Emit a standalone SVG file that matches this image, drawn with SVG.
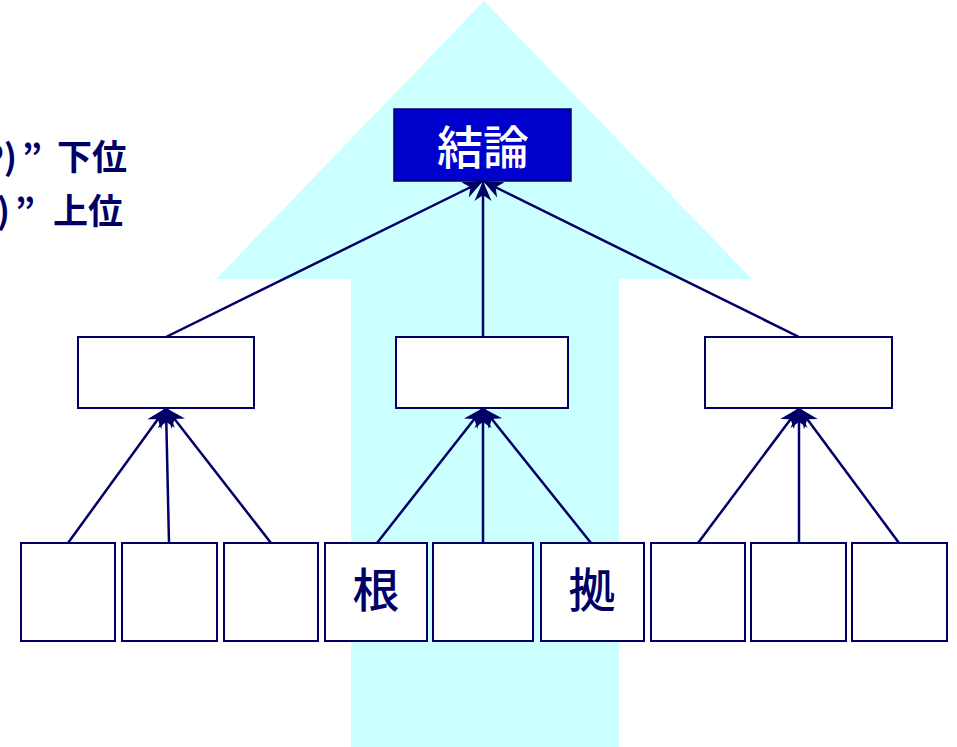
<svg xmlns="http://www.w3.org/2000/svg" width="957" height="747" viewBox="0 0 957 747">
<defs>
<style>
.box{fill:#fff;stroke:#000066;stroke-width:2}
.con{stroke:#000066;stroke-width:2.5;fill:none;marker-end:url(#ah)}
.t{font-family:"Noto Sans CJK JP","Noto Sans",sans-serif;font-weight:500;fill:#000066}
.lbl{font-family:"Noto Sans CJK JP","Noto Sans",sans-serif;font-weight:600;fill:#000066}
</style>
<marker id="ah" markerUnits="userSpaceOnUse" markerWidth="24" markerHeight="20" viewBox="-22 -10 24 20" refX="0" refY="0" orient="auto">
<path d="M0,0 L-20,-8.5 L-14,0 L-20,8.5 z" fill="#000066"/>
</marker>
</defs>
<polygon points="484,1 752,279 619,279 619,747 351,747 351,279 216,279" fill="#CCFFFF"/>
<text class="lbl" font-size="35"><tspan x="17" y="170" text-anchor="end">P)</tspan><tspan x="22" y="170">”</tspan><tspan x="57" y="170">下位</tspan></text>
<text class="lbl" font-size="35"><tspan x="10" y="224" text-anchor="end">)</tspan><tspan x="15" y="224">”</tspan><tspan x="53" y="224">上位</tspan></text>
<g id="conclusion">
<rect x="394" y="109" width="177" height="72" fill="#0000CC" stroke="#000066" stroke-width="1.5"/>
<text class="t" x="483" y="164" font-size="46" text-anchor="middle" style="fill:#fff">結論</text>
</g>
<g id="mid1"><rect class="box" x="78" y="337" width="176" height="71"/></g>
<g id="mid2"><rect class="box" x="396" y="337" width="172" height="71"/></g>
<g id="mid3"><rect class="box" x="705" y="337" width="187" height="71"/></g>
<g id="b1"><rect class="box" x="21" y="543" width="94" height="98"/></g>
<g id="b2"><rect class="box" x="122" y="543" width="95" height="98"/></g>
<g id="b3"><rect class="box" x="224" y="543" width="94" height="98"/></g>
<g id="b4"><rect class="box" x="325" y="543" width="102" height="98"/><text class="t" x="376" y="607" font-size="47" text-anchor="middle">根</text></g>
<g id="b5"><rect class="box" x="433" y="543" width="100" height="98"/></g>
<g id="b6"><rect class="box" x="541" y="543" width="103" height="98"/><text class="t" x="592" y="607" font-size="47" text-anchor="middle">拠</text></g>
<g id="b7"><rect class="box" x="651" y="543" width="94" height="98"/></g>
<g id="b8"><rect class="box" x="751" y="543" width="95" height="98"/></g>
<g id="b9"><rect class="box" x="852" y="543" width="95" height="98"/></g>
<g id="connectors">
<line class="con" x1="166" y1="337" x2="483" y2="181"/>
<line class="con" x1="483" y1="337" x2="483" y2="181"/>
<line class="con" x1="799" y1="337" x2="483" y2="181"/>
<line class="con" x1="68" y1="543" x2="166" y2="408"/>
<line class="con" x1="169" y1="543" x2="166" y2="408"/>
<line class="con" x1="271" y1="543" x2="166" y2="408"/>
<line class="con" x1="377" y1="543" x2="483" y2="408"/>
<line class="con" x1="483" y1="543" x2="483" y2="408"/>
<line class="con" x1="591" y1="543" x2="483" y2="408"/>
<line class="con" x1="698" y1="543" x2="799" y2="408"/>
<line class="con" x1="799" y1="543" x2="799" y2="408"/>
<line class="con" x1="899" y1="543" x2="799" y2="408"/>
</g>
</svg>
